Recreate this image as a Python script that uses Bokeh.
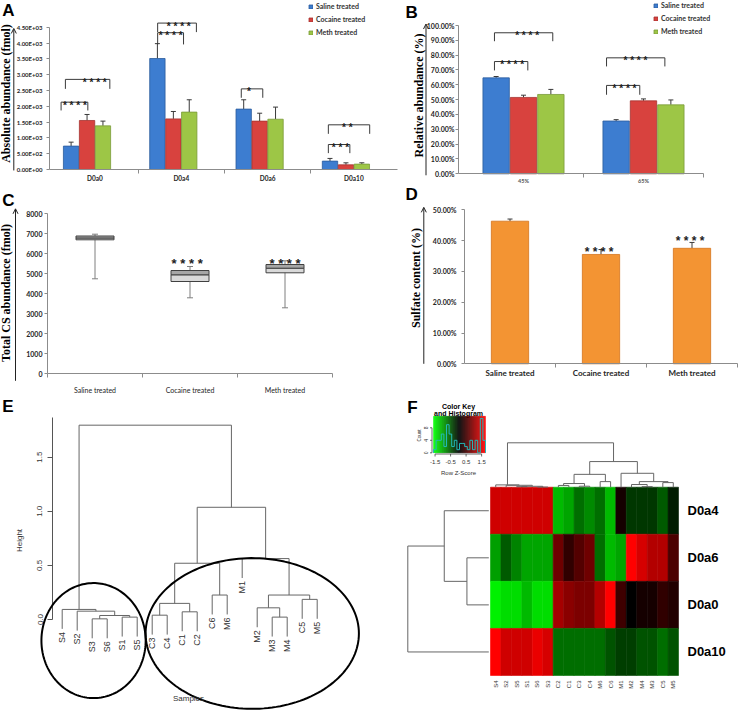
import math
import numpy as np
from bokeh.plotting import figure
from bokeh.layouts import column, row
from bokeh.models import (Range1d, FixedTicker, Label, Arrow, OpenHead, Whisker, TeeHead,
                          ColumnDataSource, Legend, LegendItem, LinearColorMapper, PolyAnnotation)
from bokeh.embed import file_html
from bokeh.resources import INLINE
from bokeh.core.properties import value
from bokeh.transform import transform

# ======================= DATA =======================
series_names = ["Saline treated", "Cocaine treated", "Meth treated"]

# Panel A: absolute abundance (fmol)
A_categories = ["D0a0", "D0a4", "D0a6", "D0a10"]
A_saline = [740, 3510, 1910, 265]
A_saline_err = [125, 470, 295, 85]
A_cocaine = [1550, 1600, 1530, 148]
A_cocaine_err = [190, 235, 250, 63]
A_meth = [1380, 1815, 1590, 170]
A_meth_err = [150, 390, 383, 42]
A_yticks = [0, 500, 1000, 1500, 2000, 2500, 3000, 3500, 4000, 4500]
A_sig_x0 = [-0.393, -0.343, 0.726, 0.726, 1.695, 2.704, 2.704]
A_sig_x1 = [-0.083, 0.172, 1.026, 1.175, 1.944, 2.953, 3.183]
A_sig_top = [2130, 2850, 4325, 4630, 2550, 790, 1413]
A_sig_leg = [1867, 2550, 3955, 4345, 2268, 517, 1128]
A_sig_text_x = [-0.233, -0.003, 0.876, 0.971, 1.785, 2.844, 2.924]
A_sig_text = ["* * * *", "* * * *", "* * * *", "* * * *", "*", "* * *", "* *"]

# Panel B: relative abundance (%)
B_categories = ["45%", "65%"]
B_saline = [64.7, 35.6]
B_saline_err = [0.9, 0.9]
B_cocaine = [51.5, 49.2]
B_cocaine_err = [1.5, 1.3]
B_meth = [53.5, 46.5]
B_meth_err = [3.4, 3.3]
B_yticks = [0, 10, 20, 30, 40, 50, 60, 70, 80, 90, 100]
B_sig_x0 = [0.758, 0.758, 1.692, 1.692]
B_sig_x1 = [1.036, 1.244, 1.969, 2.178]
B_sig_top = [75.7, 95.1, 59.6, 78.2]
B_sig_leg = [69.7, 89.4, 53.3, 72.4]
B_sig_text_x = [0.906, 1.03, 1.842, 1.933]
B_sig_text = ["* * * *", "* * * *", "* * * *", "* * * *"]

# Panel C: total CS abundance box plots (fmol)
C_groups = ["Saline treated", "Cocaine treated", "Meth treated"]
C_whisker_low = [4750, 3800, 3300]
C_q1 = [6700, 4615, 5050]
C_median = [6790, 4950, 5280]
C_q3 = [6890, 5165, 5465]
C_whisker_high = [6980, 5365, 5650]
C_yticks = [0, 1000, 2000, 3000, 4000, 5000, 6000, 7000, 8000]
C_sig_x = [0.97, 2.0]
C_sig_y = [5917, 5917]
C_sig_text = ["* * * *", "* * * *"]

# Panel D: sulfate content (%)
D_groups = ["Saline treated", "Cocaine treated", "Meth treated"]
D_sulfate = [46.3, 35.5, 37.5]
D_sulfate_err = [0.7, 1.6, 1.9]
D_yticks = [0, 10, 20, 30, 40, 50]
D_sig_x = [0.98, 1.98]
D_sig_y = [38.6, 42.0]
D_sig_text = ["* * * *", "* * * *"]

# Panel E: hierarchical clustering of samples
E_leaves = ["S4", "S2", "S3", "S6", "S1", "S5", "C3", "C4", "C1", "C2", "C6", "M6",
            "M1", "M2", "M3", "M4", "C5", "M5"]
E_merge_a = ["S3", "S1", 0, "S2", "S4", "C3", "C1", 5, "C6", 7, "M3", "M2", "C5", 11, "M1", 9, 4]
E_merge_b = ["S6", "S5", 1, 2, 3, "C4", "C2", 6, "M6", 8, "M4", 10, "M5", 12, 13, 14, 15]
E_merge_h = [0.006, 0.022, 0.037, 0.077, 0.093, 0.040, 0.071, 0.149, 0.226, 0.520,
             0.022, 0.108, 0.186, 0.226, 0.563, 1.037, 1.796]
E_yticks = [0.0, 0.5, 1.0, 1.5]
E_ellipse_cx = [3.09, 13.67]
E_ellipse_cy = [-0.195, -0.129]
E_ellipse_w = [6.95, 14.22]
E_ellipse_h = [1.063, 1.393]

# Panel F: heatmap (row z-scores)
F_cols = ["S4", "S2", "S5", "S1", "S6", "S3", "C2", "C1", "C3", "C4", "M6", "C6",
          "M1", "M2", "M4", "M3", "C5", "M5"]
F_rows = ["D0a4", "D0a6", "D0a0", "D0a10"]
F_z_D0a4 = [1.42, 1.42, 1.42, 1.42, 1.42, 1.42, -1.13, -0.98, -0.65, -0.83, -0.66, -1.13,
            0.22, -0.26, -0.26, -0.26, -0.52, -0.10]
F_z_D0a6 = [-0.95, -0.52, -0.78, -0.98, -0.98, -0.98, 0.77, 0.38, 0.60, 0.80, -0.66, -1.13,
            -0.98, 1.75, 1.44, 1.23, 1.23, 0.56]
F_z_D0a0 = [-1.50, -1.37, -1.37, -1.13, -1.37, -1.37, 1.13, 0.98, 0.86, 0.86, 1.23, 1.75,
            0.46, 0.07, 0.19, 0.19, 0.39, 0.29]
F_z_D0a10 = [1.75, 1.42, 1.42, 1.42, 1.60, 1.44, -0.62, -0.62, -0.62, -0.62, -0.62, -0.45,
             -0.32, -0.32, -0.48, -0.48, -0.65, -0.46]
F_row_merge_a = ["D0a6", "D0a4", 1]
F_row_merge_b = ["D0a0", 0, "D0a10"]
F_row_merge_h = [0.27, 0.55, 1.0]
F_key_low, F_key_high = -1.6, 1.75
F_key_ticks = [-1.5, -0.5, 0.5, 1.5]
F_count_ticks = [0, 4, 8]

# ======================= STYLE =======================
BLUE, BLUE_L = "#3D7DD0", "#2B5C9C"
RED, RED_L = "#D8423E", "#A53431"
GREEN, GREEN_L = "#9DC646", "#7A9A38"
ORANGE, ORANGE_L = "#F39433", "#D4741C"
AX = "#8C8C8C"
TXT = "#262626"
ERR = "#3A3A3A"
SANS = "Liberation Sans"
SERIF = "Liberation Serif"
XL = "Lato"


class Geo:
    """A figure occupying page box (ox, oy, w, h); the whole figure is the plotting frame.
    Data <-> page pixel mapping given by a reference point and pixels per unit."""
    def __init__(self, ox, oy, w, h, sx_ref, x_ref, px_x, sy_ref, y_ref, px_y):
        self.ox, self.oy, self.w, self.h = ox, oy, w, h
        self.sx_ref, self.x_ref, self.px_x = sx_ref, x_ref, px_x
        self.sy_ref, self.y_ref, self.px_y = sy_ref, y_ref, px_y

    def X(self, s):
        return self.x_ref + (s - self.sx_ref) / self.px_x

    def Y(self, s):
        return self.y_ref + (self.sy_ref - s) / self.px_y

    def fig(self):
        xr = (self.X(self.ox), self.X(self.ox + self.w))
        yr = (self.Y(self.oy + self.h), self.Y(self.oy))
        p = figure(width=self.w, height=self.h, x_range=Range1d(*xr), y_range=Range1d(*yr),
                   output_backend="svg", toolbar_location=None, title=None,
                   min_border_left=0, min_border_right=0, min_border_top=0, min_border_bottom=0)
        p.outline_line_color = None
        p.grid.visible = False
        return p


def style_y(p, g, sx_axis, ticks, labels, size="7px", standoff=2):
    ax = p.yaxis[0]
    ax.fixed_location = g.X(sx_axis)
    ax.ticker = FixedTicker(ticks=ticks)
    ax.major_label_overrides = dict(zip(ticks, labels))
    ax.bounds = (ticks[0], ticks[-1])
    ax.axis_line_color = AX
    ax.major_tick_line_color = AX
    ax.major_tick_out = 3
    ax.major_tick_in = 0
    ax.minor_tick_line_color = None
    ax.major_label_standoff = standoff
    ax.major_label_text_font = XL
    ax.major_label_text_font_size = size
    ax.major_label_text_font_style = "bold"
    ax.major_label_text_color = TXT


def style_x(p, g, sx0, sx1, centers, labels, seps, size, style, standoff, color=TXT):
    ax = p.xaxis[0]
    ax.fixed_location = 0
    ax.bounds = (g.X(sx0), g.X(sx1))
    ax.ticker = FixedTicker(ticks=centers, minor_ticks=seps)
    ax.major_label_overrides = dict(zip(centers, labels))
    ax.axis_line_color = AX
    ax.major_tick_line_color = None
    ax.major_tick_out = 0
    ax.major_tick_in = 0
    ax.minor_tick_line_color = AX
    ax.minor_tick_out = 4
    ax.minor_tick_in = 0
    ax.major_label_standoff = standoff
    ax.major_label_text_font = XL
    ax.major_label_text_font_size = size
    ax.major_label_text_font_style = style
    ax.major_label_text_color = color


def letter(p, g, text, sx, sy):
    p.add_layout(Label(x=g.X(sx), y=g.Y(sy), text=text, text_font=SANS, text_font_size="17px",
                       text_font_style="bold", text_color="black", text_align="left",
                       text_baseline="top"))


def y_title(p, g, text, s_base, s_center, size="12px"):
    p.add_layout(Label(x=g.X(s_base), y=g.Y(s_center), text=text, angle=math.pi / 2,
                       text_align="center", text_baseline="alphabetic", text_font=SERIF,
                       text_font_size=size, text_font_style="bold", text_color="black"))


def y_arrow(p, g, sx, y0, y1):
    p.add_layout(Arrow(x_start=g.X(sx), y_start=y0, x_end=g.X(sx), y_end=y1,
                       end=OpenHead(size=5, line_width=1, line_color="#222222"),
                       line_color="#222222", line_width=1))


def brackets(p, x0s, x1s, tops, legs, txs, texts, size):
    p.multi_line(xs=[[a, a, b, b] for a, b in zip(x0s, x1s)],
                 ys=[[l, t, t, l] for t, l in zip(tops, legs)],
                 line_color=ERR, line_width=1)
    p.text(x=txs, y=tops, text=texts, text_align="center", text_baseline="alphabetic",
           y_offset=round(0.43 * size - 1), text_font=value(SANS), text_font_size=f"{size}px",
           text_font_style="bold", text_color="#222222")


def stars(p, xs, ys, texts, size):
    p.text(x=xs, y=ys, text=texts, text_align="center", text_baseline="alphabetic",
           y_offset=round(0.58 * size), text_font=value(SANS), text_font_size=f"{size}px",
           text_font_style="bold", text_color="#222222")


def grouped_bars(p, xs_base, series, errs, offsets, width, fills, lines):
    rends = []
    for vals, es, off, fc, lc in zip(series, errs, offsets, fills, lines):
        xs = [b + off for b in xs_base]
        src = ColumnDataSource(dict(x=xs, top=vals, up=[v + e for v, e in zip(vals, es)]))
        r = p.vbar(x="x", top="top", bottom=0, width=width, source=src,
                   fill_color=fc, line_color=lc, line_width=0.8)
        p.add_layout(Whisker(source=src, base="x", lower="top", upper="up", dimension="height",
                             line_color=ERR, line_width=1, lower_head=None,
                             upper_head=TeeHead(size=5, line_color=ERR, line_width=1)))
        rends.append(r)
    return rends


def add_legend(p, rends, loc):
    leg = Legend(items=[LegendItem(label=n, renderers=[r]) for n, r in zip(series_names, rends)],
                 location=loc, orientation="vertical", background_fill_alpha=0,
                 border_line_alpha=0, padding=0, margin=0, spacing=3, glyph_width=5,
                 glyph_height=5, label_height=10, label_standoff=3, label_text_font=XL,
                 label_text_font_size="7px", label_text_font_style="bold",
                 label_text_color="#333333")
    p.add_layout(leg)


# ======================= PANEL A =======================
# four bar slots per category (the fourth one is empty), so the three bars sit left of centre
gA = Geo(0, 0, 400, 184, 94.5, 0, 86.3, 169, 0, 142.3 / 4500)
pA = gA.fig()
rA = grouped_bars(pA, list(range(len(A_categories))), [A_saline, A_cocaine, A_meth],
                  [A_saline_err, A_cocaine_err, A_meth_err], [-0.277, -0.092, 0.092], 0.178,
                  [BLUE, RED, GREEN], [BLUE_L, RED_L, GREEN_L])
brackets(pA, A_sig_x0, A_sig_x1, A_sig_top, A_sig_leg, A_sig_text_x, A_sig_text, 10)
style_y(pA, gA, 49, A_yticks, [f"{t:.2E}" for t in A_yticks], size="6px", standoff=4)
style_x(pA, gA, 49, 397, list(range(len(A_categories))), A_categories, [0.5, 1.5, 2.5],
        "6.5px", "bold", 1)
add_legend(pA, rA, (308, 147))
letter(pA, gA, "A", 1.7, 0.3)
y_title(pA, gA, "Absolute abundance (fmol)", 5.5, 93)
y_arrow(pA, gA, 13.3, -30, 4460)

# ======================= PANEL B =======================
gB = Geo(400, 0, 338, 184, 523, 1, 120, 173.3, 0, 1.483)
pB = gB.fig()
rB = grouped_bars(pB, [1, 2], [B_saline, B_cocaine, B_meth],
                  [B_saline_err, B_cocaine_err, B_meth_err], [-0.228, 0.0, 0.228], 0.22,
                  [BLUE, RED, GREEN], [BLUE_L, RED_L, GREEN_L])
brackets(pB, B_sig_x0, B_sig_x1, B_sig_top, B_sig_leg, B_sig_text_x, B_sig_text, 10)
style_y(pB, gB, 458, B_yticks, [f"{t:.2f}%" for t in B_yticks], standoff=1)
style_x(pB, gB, 458, 703, [1, 2], B_categories, [1.5, 2.5], "5.5px", "bold", 0, color="#555555")
add_legend(pB, rB, (253, 148))
letter(pB, gB, "B", 405, 2)
y_title(pB, gB, "Relative abundance   (%)", 418.5, 92)
y_arrow(pB, gB, 425.5, -1, 101)

# ======================= PANEL C =======================
gC = Geo(0, 184, 400, 212, 94.5, 0, 95, 373.3, 0, 0.02)
pC = gC.fig()
srcC = ColumnDataSource(dict(x=list(range(len(C_groups))), lo=C_whisker_low, q1=C_q1,
                             med=C_median, q3=C_q3, hi=C_whisker_high))
pC.add_layout(Whisker(source=srcC, base="x", lower="lo", upper="hi", dimension="height",
                      line_color="#7F7F7F", line_width=1,
                      lower_head=TeeHead(size=6, line_color="#7F7F7F", line_width=1),
                      upper_head=TeeHead(size=6, line_color="#7F7F7F", line_width=1)))
pC.vbar(x="x", bottom="q1", top="med", width=0.4, source=srcC, fill_color="#D9D9D9",
        line_color="#404040", line_width=1)
pC.vbar(x="x", bottom="med", top="q3", width=0.4, source=srcC, fill_color="#A6A6A6",
        line_color="#404040", line_width=1)
stars(pC, C_sig_x, C_sig_y, C_sig_text, 13)
style_y(pC, gC, 47, C_yticks, [str(t) for t in C_yticks], standoff=2)
style_x(pC, gC, 47, 332, list(range(len(C_groups))), C_groups, [-0.5, 0.5, 1.5, 2.5],
        "7px", "normal", 8)
letter(pC, gC, "C", 1.7, 190)
y_title(pC, gC, "Total  CS abundance (fmol)", 5.5, 291)
y_arrow(pC, gC, 15, -350, 8250)

# ======================= PANEL D =======================
gD = Geo(400, 184, 338, 212, 509.5, 0, 91, 363.3, 0, 3.08)
pD = gD.fig()
srcD = ColumnDataSource(dict(x=list(range(len(D_groups))), top=D_sulfate,
                             up=[v + e for v, e in zip(D_sulfate, D_sulfate_err)]))
pD.vbar(x="x", top="top", bottom=0, width=0.41, source=srcD, fill_color=ORANGE,
        line_color=ORANGE_L, line_width=0.8)
pD.add_layout(Whisker(source=srcD, base="x", lower="top", upper="up", dimension="height",
                      line_color=ERR, line_width=1, lower_head=None,
                      upper_head=TeeHead(size=5, line_color=ERR, line_width=1)))
stars(pD, D_sig_x, D_sig_y, D_sig_text, 12)
style_y(pD, gD, 464, D_yticks, [f"{t:.2f}%" for t in D_yticks], standoff=5)
style_x(pD, gD, 464, 737, list(range(len(D_groups))), D_groups, [0.5, 1.5, 2.5], "8px", "bold", 0)
letter(pD, gD, "D", 405, 184)
y_title(pD, gD, "Sulfate content (%)", 415.5, 277.5)
y_arrow(pD, gD, 423.3, 0, 50.8)


# ======================= DENDROGRAM HELPER =======================
def dendro_segments(ma, mb, mh, order, hang=None):
    pos = {n: i for i, n in enumerate(order)}
    node_p, node_h = [], []
    x0, y0, x1, y1 = [], [], [], []
    leaf_end = {}
    for a, b, h in zip(ma, mb, mh):
        ps = []
        for c in (a, b):
            if isinstance(c, str):
                pc = pos[c]
                hb = (h - hang) if hang is not None else 0.0
                leaf_end[c] = hb
            else:
                pc, hb = node_p[c], node_h[c]
            x0.append(pc); y0.append(hb); x1.append(pc); y1.append(h)
            ps.append(pc)
        x0.append(ps[0]); y0.append(h); x1.append(ps[1]); y1.append(h)
        node_p.append((ps[0] + ps[1]) / 2.0)
        node_h.append(h)
    return x0, y0, x1, y1, leaf_end, pos


# ======================= PANEL E =======================
gE = Geo(0, 396, 400, 315, 61.7, 1, 15, 619, 0, 108.2)
pE = gE.fig()
pE.xaxis.visible = False
hang = 0.1 * max(E_merge_h)
ex0, ey0, ex1, ey1, e_leaf_end, e_pos = dendro_segments(E_merge_a, E_merge_b, E_merge_h,
                                                         E_leaves, hang)
pE.segment(x0=[v + 1 for v in ex0], y0=ey0, x1=[v + 1 for v in ex1], y1=ey1,
           line_color="#666666", line_width=1)
pE.text(x=[e_pos[n] + 1 for n in E_leaves], y=[e_leaf_end[n] for n in E_leaves], text=E_leaves,
        angle=math.pi / 2, text_align="right", text_baseline="middle", y_offset=3,
        text_font=value(SANS), text_font_size="9px", text_color="#333333")
for cx, cy, w, h in zip(E_ellipse_cx, E_ellipse_cy, E_ellipse_w, E_ellipse_h):
    t = np.linspace(0, 2 * np.pi, 160)
    pE.add_layout(PolyAnnotation(xs=list(cx + w / 2 * np.cos(t)), ys=list(cy + h / 2 * np.sin(t)),
                                 fill_color=None, fill_alpha=0, line_color="black",
                                 line_alpha=1.0, line_width=2))
axE = pE.yaxis[0]
axE.fixed_location = gE.X(52)
axE.ticker = FixedTicker(ticks=E_yticks)
axE.major_label_overrides = {t: f"{t:.1f}" for t in E_yticks}
axE.bounds = (0, gE.Y(417))
axE.axis_line_color = "#555555"
axE.major_tick_line_color = "#555555"
axE.major_tick_out = 5
axE.major_tick_in = 0
axE.minor_tick_line_color = None
axE.major_label_orientation = "vertical"
axE.major_label_standoff = 5
axE.major_label_text_font = SANS
axE.major_label_text_font_size = "8px"
axE.major_label_text_color = "#333333"
pE.add_layout(Label(x=gE.X(18.5), y=gE.Y(540), text="Height", angle=math.pi / 2,
                    text_align="center", text_baseline="alphabetic", text_font=SANS,
                    text_font_size="8px", text_color="#333333"))
pE.add_layout(Label(x=gE.X(188), y=gE.Y(698), text="Samples", text_align="center",
                    text_baseline="middle", text_font=SANS, text_font_size="8px",
                    text_color="#333333"))
letter(pE, gE, "E", 1.7, 396)

# ======================= PANEL F =======================
gF = Geo(400, 396, 338, 315, 490, 0, 10.444, 675, 0, 47.075)
pF = gF.fig()
pF.xaxis.visible = False
pF.yaxis.visible = False

n_pal = 75
palette = []
for i in range(n_pal):
    tt = i / (n_pal - 1)
    if tt <= 0.5:
        palette.append("#%02x%02x%02x" % (0, int(round(255 * (1 - 2 * tt))), 0))
    else:
        palette.append("#%02x%02x%02x" % (int(round(255 * (2 * tt - 1))), 0, 0))
mapper = LinearColorMapper(palette=palette, low=F_key_low, high=F_key_high)

F_z_rows = [F_z_D0a4, F_z_D0a6, F_z_D0a0, F_z_D0a10]
hx, hy, hz = [], [], []
for ri, zs in enumerate(F_z_rows):
    for ci, z in enumerate(zs):
        hx.append(ci + 0.5)
        hy.append(len(F_rows) - ri - 0.5)
        hz.append(z)
pF.rect(x="x", y="y", width=1, height=1, source=ColumnDataSource(dict(x=hx, y=hy, z=hz)),
        fill_color=transform("z", mapper), line_color=transform("z", mapper), line_width=0.6)

# column dendrogram (same clustering as panel E)
cx0, cy0, cx1, cy1, _, _ = dendro_segments(E_merge_a, E_merge_b, E_merge_h, F_cols, None)
col_top = gF.Y(442.3) - len(F_rows)
hmax = max(E_merge_h)
pF.segment(x0=[v + 0.5 for v in cx0], y0=[len(F_rows) + h / hmax * col_top for h in cy0],
           x1=[v + 0.5 for v in cx1], y1=[len(F_rows) + h / hmax * col_top for h in cy1],
           line_color="#666666", line_width=1)
# row dendrogram
rx0, ry0, rx1, ry1, _, _ = dendro_segments(F_row_merge_a, F_row_merge_b, F_row_merge_h, F_rows, None)
row_base = gF.X(488.3)
row_span = row_base - gF.X(407.3)
rmax = max(F_row_merge_h)
pF.segment(x0=[row_base - h / rmax * row_span for h in ry0], y0=[len(F_rows) - 0.5 - v for v in rx0],
           x1=[row_base - h / rmax * row_span for h in ry1], y1=[len(F_rows) - 0.5 - v for v in rx1],
           line_color="#666666", line_width=1)

# labels
pF.text(x=[i + 0.5 for i in range(len(F_cols))], y=[gF.Y(680)] * len(F_cols), text=F_cols,
        angle=math.pi / 2, text_align="right", text_baseline="middle",
        text_font=value(SANS), text_font_size="6px", text_color="#333333")
pF.text(x=[gF.X(687)] * len(F_rows), y=[len(F_rows) - 0.5 - i for i in range(len(F_rows))],
        text=F_rows, text_align="left", text_baseline="middle", text_font=value(SANS),
        text_font_size="13px", text_font_style="bold", text_color="black")

# color key with histogram
KX0, KX1, KYT, KYB, KPC = 433.0, 485.0, 415.7, 452.3, 3.125


def kx(z):
    return gF.X(KX0 + (z - F_key_low) / (F_key_high - F_key_low) * (KX1 - KX0))


def ky(c):
    return gF.Y(KYB - KPC * c)


pF.text(x=[gF.X(458)] * 2, y=[gF.Y(405.5), gF.Y(413)], text=["Color Key", "and Histogram"],
        text_align="center", text_baseline="middle", text_font=value(SANS),
        text_font_size="7px", text_font_style="bold", text_color="black")
edges_key = np.linspace(F_key_low, F_key_high, n_pal + 1)
pF.quad(left=[kx(e) for e in edges_key[:-1]], right=[kx(e) for e in edges_key[1:]],
        bottom=gF.Y(KYB), top=gF.Y(KYT), fill_color=palette, line_color=palette, line_width=0.3)
all_z = np.array(F_z_rows).ravel()
counts, hedges = np.histogram(all_z, bins=np.linspace(F_key_low, F_key_high, 21))
sx_, sy_ = [kx(hedges[0])], [ky(0)]
for c, e0, e1 in zip(counts, hedges[:-1], hedges[1:]):
    sx_ += [kx(e0), kx(e1)]
    sy_ += [ky(c), ky(c)]
sx_.append(kx(hedges[-1])); sy_.append(ky(0))
pF.line(sx_, sy_, line_color="#22B8B8", line_width=1)
# key axes
pF.segment(x0=[kx(F_key_ticks[0])] + [kx(t) for t in F_key_ticks],
           y0=[gF.Y(453.5)] + [gF.Y(453.5)] * len(F_key_ticks),
           x1=[kx(F_key_ticks[-1])] + [kx(t) for t in F_key_ticks],
           y1=[gF.Y(453.5)] + [gF.Y(456)] * len(F_key_ticks), line_color="#444444", line_width=0.8)
pF.text(x=[kx(t) for t in F_key_ticks], y=[gF.Y(461.7)] * len(F_key_ticks),
        text=[f"{t:g}" for t in F_key_ticks], text_align="center", text_baseline="middle",
        text_font=value(SANS), text_font_size="6px", text_color="#333333")
pF.text(x=[gF.X(458)], y=[gF.Y(472)], text=["Row Z-Score"], text_align="center",
        text_baseline="middle", text_font=value(SANS), text_font_size="6px", text_color="#333333")
pF.segment(x0=[gF.X(431.5)] + [gF.X(431.5)] * len(F_count_ticks),
           y0=[ky(F_count_ticks[0])] + [ky(c) for c in F_count_ticks],
           x1=[gF.X(431.5)] + [gF.X(429.5)] * len(F_count_ticks),
           y1=[ky(F_count_ticks[-1])] + [ky(c) for c in F_count_ticks],
           line_color="#444444", line_width=0.8)
pF.text(x=[gF.X(425.5)] * len(F_count_ticks), y=[ky(c) for c in F_count_ticks],
        text=[str(c) for c in F_count_ticks], angle=math.pi / 2, text_align="center",
        text_baseline="middle", text_font=value(SANS), text_font_size="5px", text_color="#333333")
pF.text(x=[gF.X(419)], y=[gF.Y(435)], text=["Count"], angle=math.pi / 2, text_align="center",
        text_baseline="middle", text_font=value(SANS), text_font_size="4.5px", text_color="#333333")
pF.text(x=[gF.X(406.7)], y=[gF.Y(397)], text=["F"], text_align="left", text_baseline="top",
        text_font=value(SANS), text_font_size="17px", text_font_style="bold", text_color="black")

# ======================= LAYOUT =======================
layout = column(row(pA, pB), row(pC, pD), row(pE, pF))
open("out.html", "w").write(file_html(layout, INLINE))
